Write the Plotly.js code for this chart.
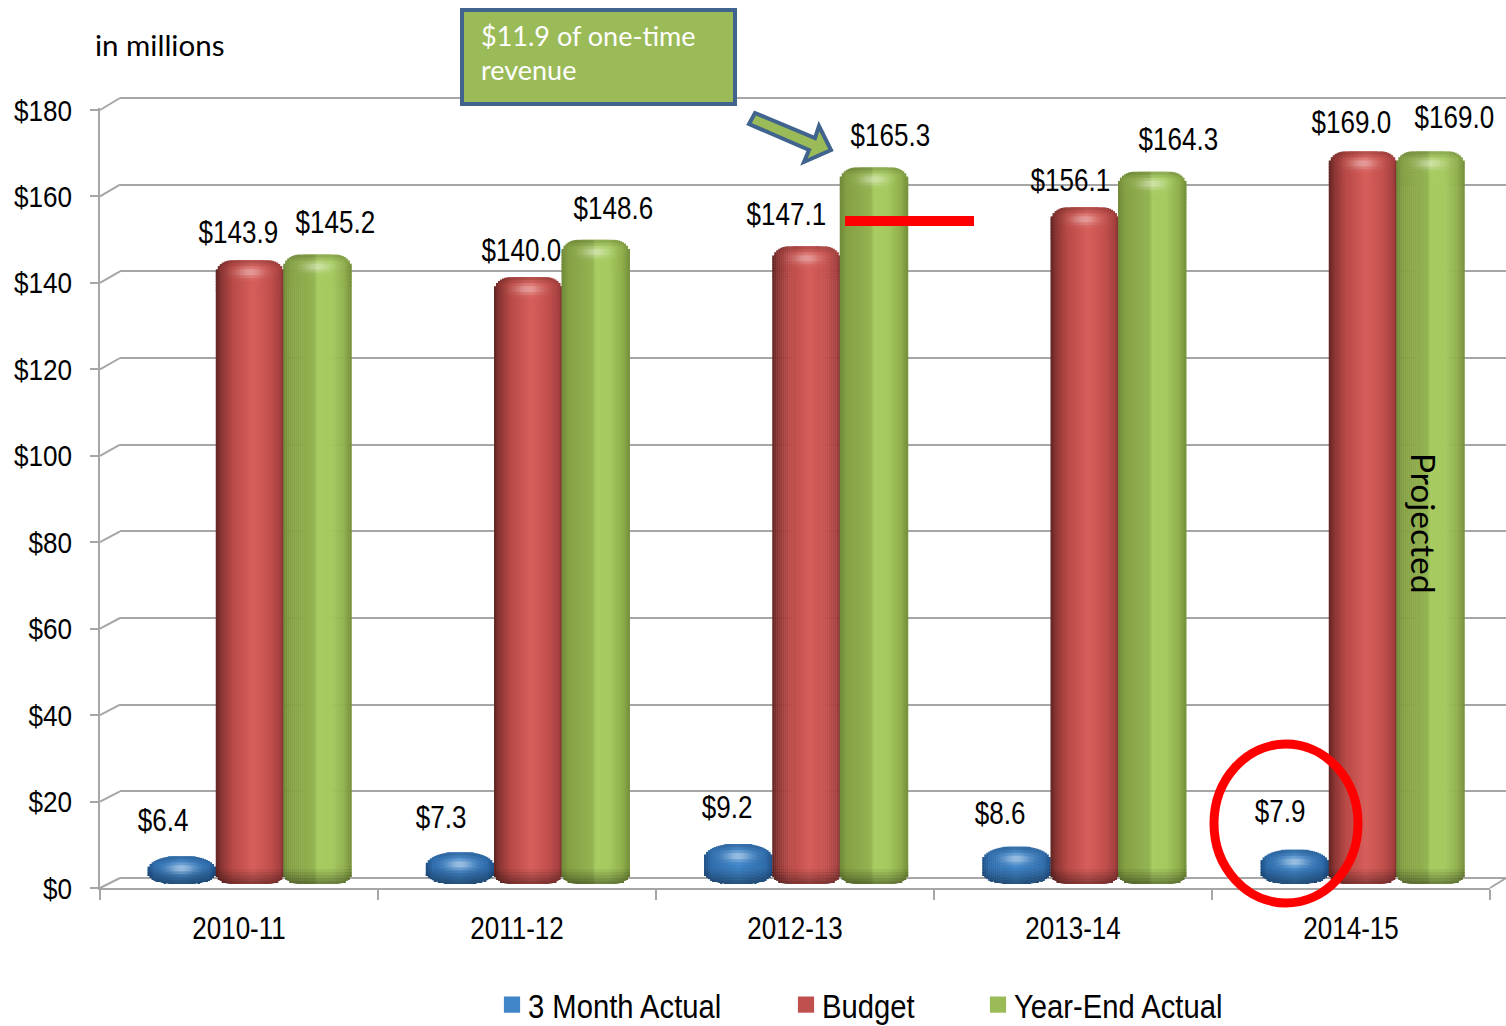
<!DOCTYPE html>
<html><head><meta charset="utf-8">
<script src="https://cdn.plot.ly/plotly-3.0.1.min.js"></script>
<style>html,body{margin:0;padding:0;background:#fff;overflow:hidden}#c{width:1506px;height:1026px}
.legendtext,.legend2text,.legend3text{transform-box:fill-box;transform-origin:left center;transform:scaleX(.86)}</style>
</head><body><div id="c"></div>
<script>
const years = ['2010-11','2011-12','2012-13','2013-14','2014-15'];
const threeMonth = [6.4,7.3,9.2,8.6,7.9];
const budget = [143.9,140.0,147.1,156.1,169.0];
const yearEnd = [145.2,148.6,165.3,164.3,169.0];
const yTicks = [0,20,40,60,80,100,120,140,160,180];
const yLabels = ['$0','$20','$40','$60','$80','$100','$120','$140','$160','$180'];
const names = ['3 Month Actual','Budget','Year-End Actual'];

const W=1506,H=1026,L=100,T=90,B=888,PW=W-L,PH=B-T;
const NARROW='"Liberation Sans",Arial,sans-serif';
const SANS='Lato,"Open Sans",sans-serif';
const px=x=>(x-L)/PW, py=y=>(B-y)/PH;

const BARK=4.335, UNIT=278.25, BW=68;
const series=[
 {vals:threeMonth,off:-68.2/UNIT,rx:28,ry:14,base:'#3f85c8',
  stops:[[0,'#1e4f85'],[.1,'#2f6cab'],[.5,'#3f85c8'],[.9,'#2f6cab'],[1,'#1f5088']],hl:.5},
 {vals:budget,off:0,rx:16,ry:14,base:'#c0504d',
  stops:[[0,'#5e2422'],[.08,'#8a3533'],[.25,'#b84a47'],[.55,'#d75f5b'],[.8,'#c2504d'],[.95,'#a54140'],[1,'#7e302f']],hl:.4},
 {vals:yearEnd,off:67.5/UNIT,rx:16,ry:14,base:'#9bbb59',
  stops:[[0,'#6f8838'],[.1,'#84a044'],[.46,'#94b452'],[.5,'#a8cc62'],[.7,'#a6ca60'],[.9,'#8fae4c'],[1,'#75903a']],hl:.45}
];
const hex=c=>[1,3,5].map(i=>parseInt(c.substr(i,2),16));
function ramp(st,u){for(let i=1;i<st.length;i++){if(u<=st[i][0]){const a=st[i-1],b=st[i],f=(u-a[0])/(b[0]-a[0]),
  A=hex(a[1]),B2=hex(b[1]);return A.map((v,k)=>v+(B2[k]-v)*f);}}return hex(st[st.length-1][1]);}
function shade(s,u,t,b){
  let c=ramp(s.stops,u);
  const dark=Math.max(t<7?(7-t)/7*.18:0,b<16?(16-b)/16*.38:0);
  c=c.map(v=>v*(1-dark));
  const h=s.hl*Math.exp(-Math.pow((u-.5)/.2,2))*Math.exp(-Math.pow((t-12)/5,2));
  c=c.map(v=>v+(255-v)*h);
  return 'rgb('+c.map(Math.round).join(',')+')';
}
const N=34;
const traces=[
 {x:[],y:[],xaxis:'x',yaxis:'y',type:'scatter',mode:'lines',showlegend:false,hoverinfo:'skip'},
 {x:[],y:[],xaxis:'x2',yaxis:'y2',type:'scatter',mode:'lines',showlegend:false,hoverinfo:'skip'}
];
series.forEach((s,si)=>{
  traces.push({type:'bar',name:names[si],legend:si?'legend'+(si+1):'legend',xaxis:'x3',yaxis:'y3',
    x:years.map((_,i)=>i+s.off),y:s.vals,width:.1,marker:{color:s.base},showlegend:true,hoverinfo:'y'});
});
series.forEach(s=>{
  const xs=[],ys=[],bs=[],cs=[];
  const sw=BW/UNIT/N;
  s.vals.forEach((v,i)=>{
    const h=v*BARK;
    for(let k=0;k<N;k++){
      const u=(k+.5)/N, d=Math.min(k+.5,N-k-.5)*BW/N;
      const e=d<s.rx?1-Math.sqrt(1-Math.pow((s.rx-d)/s.rx,2)):0;
      const drop=s.ry*e, rise=Math.min(s.ry*.8,h*.4)*e;
      let p=drop;
      while(p<h-rise){
        let np=(p<30||p>=h-18)?p+3:h-18;
        if(np>h-rise) np=h-rise;
        const ext=Math.min(np+1,h-rise);   // overlap the next segment so no seam shows
        xs.push(i+s.off+(u-.5)*BW/UNIT);
        bs.push((h-ext)/BARK); ys.push((ext-p)/BARK);
        cs.push(shade(s,u,(p+np)/2,h-(p+np)/2));
        p=np;
      }
    }
  });
  traces.push({type:'bar',xaxis:'x3',yaxis:'y3',x:xs,y:ys,base:bs,width:sw*1.25,marker:{color:cs,line:{width:0}},showlegend:false,hoverinfo:'skip'});
});

// label offsets from the bar top, in pixels
const labelShift=[
 [[-19,36],[-12,28],[18,32]],
 [[-19,35],[-7,27],[18,31]],
 [[-11,37],[-20,32],[16,32]],
 [[-17,33],[-14,27],[26,32]],
 [[-15,38],[-12,29],[24,34]]
];
const annos=[];
series.forEach((s,si)=>s.vals.forEach((v,i)=>annos.push({xref:'x3',yref:'y3',x:i+s.off,y:v,
  text:'$'+v.toFixed(1),showarrow:false,xshift:labelShift[i][si][0],yshift:labelShift[i][si][1],
  font:{family:NARROW,size:31,color:'#000'}})));
annos.push({xref:'paper',yref:'paper',x:px(93),y:py(44.5),xanchor:'left',yanchor:'middle',showarrow:false,text:'in millions',font:{family:SANS,size:29.5,color:'#000'}});
annos.push({xref:'paper',yref:'paper',x:px(479),y:py(36),xanchor:'left',yanchor:'middle',showarrow:false,text:'$11.9 of one-time',font:{family:SANS,size:27,color:'#fff'}});
annos.push({xref:'paper',yref:'paper',x:px(479),y:py(70),xanchor:'left',yanchor:'middle',showarrow:false,text:'revenue',font:{family:SANS,size:27,color:'#fff'}});
annos.push({xref:'paper',yref:'paper',x:px(1424),y:py(523),xanchor:'center',yanchor:'middle',showarrow:false,textangle:90,text:'Projected',font:{family:SANS,size:33.5,color:'#000'}});

const GRID='#a6a6a6';
const shapes=[];
const kF=778/180,kB=780/180;
yTicks.forEach(v=>shapes.push({type:'line',layer:'below',xref:'paper',yref:'paper',x0:0,y0:py(B-v*kF),x1:px(120),y1:py(878-v*kB),line:{color:GRID,width:2}}));
shapes.push({type:'line',layer:'below',xref:'paper',yref:'paper',x0:px(1490),y0:py(888),x1:px(1506),y1:py(878),line:{color:GRID,width:2}});
shapes.push({type:'rect',xref:'paper',yref:'paper',x0:px(462),y0:py(10),x1:px(735),y1:py(104),fillcolor:'#9bbb59',line:{color:'#41648f',width:4}});
const pts=[[755,113],[815,138],[819,126],[831,150],[804,162],[809,150],[749,124]];
shapes.push({type:'path',xref:'paper',yref:'paper',path:'M'+pts.map(p=>px(p[0])+','+py(p[1])).join('L')+'Z',fillcolor:'#9bbb59',line:{color:'#41648f',width:4}});
shapes.push({type:'line',xref:'paper',yref:'paper',x0:px(845),y0:py(221),x1:px(974),y1:py(221),line:{color:'#ff0000',width:10}});
shapes.push({type:'circle',xref:'paper',yref:'paper',x0:px(1214),y0:py(744),x1:px(1358),y1:py(903),line:{color:'#ff0000',width:9}});

const hide={visible:false,fixedrange:true};
const LEG=x=>({x:x/W,xref:'container',y:1-976/H,yref:'container',xanchor:'left',yanchor:'top',orientation:'h',bgcolor:'rgba(0,0,0,0)',itemwidth:30,font:{family:NARROW,size:34,color:'#000'}});
const layout={
 width:W,height:H,paper_bgcolor:'#fff',plot_bgcolor:'rgba(0,0,0,0)',
 margin:{l:L,r:0,t:T,b:H-B,pad:0},barmode:'overlay',hovermode:false,
 showlegend:true,
 legend:LEG(488),legend2:LEG(782),legend3:LEG(974),
 xaxis:{type:'category',categoryorder:'array',categoryarray:years,tickmode:'array',tickvals:years,ticktext:years,tickson:'boundaries',
   domain:[0,px(1490)],range:[-.5,4.5],anchor:'y',showgrid:false,zeroline:false,showline:true,linecolor:GRID,linewidth:2,
   ticks:'outside',ticklen:10,tickwidth:2,tickcolor:GRID,ticklabelstandoff:12,tickfont:{family:NARROW,size:31,color:'#000'}},
 yaxis:{domain:[0,py(108)],range:[0,780/kF],anchor:'x',tickvals:yTicks,ticktext:yLabels,showgrid:false,zeroline:false,showline:true,
   linecolor:GRID,linewidth:2,ticks:'outside',ticklen:8,tickwidth:2,tickcolor:GRID,ticklabelstandoff:12,tickfont:{family:NARROW,size:30,color:'#000'}},
 xaxis2:{domain:[px(120),1],range:[0,1],anchor:'y2',visible:true,showline:false,showgrid:false,zeroline:false,ticks:'',showticklabels:false},
 yaxis2:{domain:[py(878+kB),py(98-kB)],range:[-1,181],anchor:'x2',tickvals:yTicks,showline:false,showgrid:true,gridcolor:GRID,gridwidth:2,zeroline:false,ticks:'',showticklabels:false},
 xaxis3:Object.assign({domain:[0,1],range:[-150/UNIT,(W-250)/UNIT],anchor:'y3'},hide),
 yaxis3:Object.assign({domain:[py(884),1],range:[0,(884-T)/BARK],anchor:'x3'},hide),
 shapes,annotations:annos
};
// Liberation Sans compressed horizontally reproduces the narrow face of the original.
function narrow(){
  const root=document.getElementById('c');
  const sel=[['.xtick text',.84],['.ytick text',.87],['.annotation-text',.84]];
  sel.forEach(([q,k])=>root.querySelectorAll(q).forEach(t=>{
    if(!/Liberation/.test(t.style.fontFamily)) return;
    const b=t.getBBox(), a=t.getAttribute('text-anchor')||'start';
    const c=a==='middle'?b.x+b.width/2:a==='end'?b.x+b.width:b.x;
    const old=t.getAttribute('transform')||'';
    t.setAttribute('transform',old+' translate('+c+',0) scale('+k+',1) translate('+(-c)+',0)');
  }));
  root.querySelectorAll('.legendpoints path').forEach(p=>{
    p.setAttribute('transform',(p.getAttribute('transform')||'')+' translate(4,0) scale(1.35)');
  });
}
Plotly.newPlot('c',traces,layout,{displayModeBar:false}).then(narrow);
</script></body></html>
